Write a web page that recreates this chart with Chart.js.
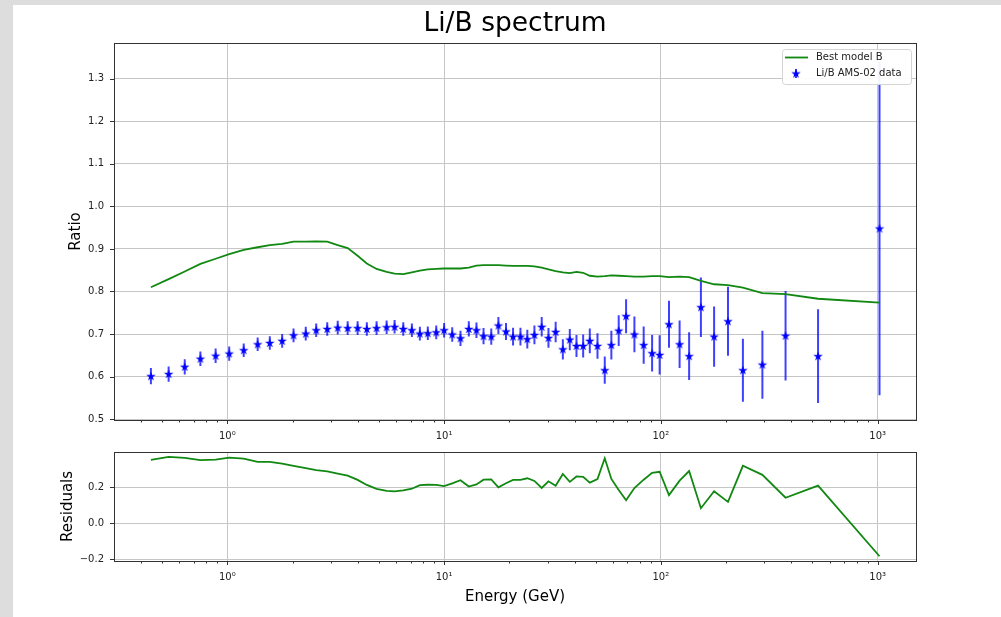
<!DOCTYPE html>
<html>
<head>
<meta charset="utf-8">
<title>Li/B spectrum</title>
<script src="https://cdn.jsdelivr.net/npm/chart.js@4.4.1/dist/chart.umd.min.js"></script>
<style>
  html, body { margin: 0; padding: 0; }
  body { width: 1001px; height: 617px; background: #dddddd; position: relative; overflow: hidden; }
  #fig { position: absolute; left: 13px; top: 5px; width: 988px; height: 612px; background: #ffffff; }
  #spectrum { position: absolute; left: 0; top: 0; }
  #resid { position: absolute; left: 0; top: 440px; }
</style>
</head>
<body>
<div id="fig">
  <canvas id="spectrum" width="988" height="440"></canvas>
  <canvas id="resid" width="988" height="172"></canvas>
</div>
<script>
// energies (GeV) of the AMS-02 bins
const energy = [
  0.444, 0.536, 0.636, 0.751, 0.883, 1.02, 1.19, 1.38, 1.57, 1.79,
  2.02, 2.30, 2.57, 2.89, 3.23, 3.59, 3.99, 4.40, 4.88, 5.43,
  5.91, 6.48, 7.10, 7.73, 8.41, 9.20, 10.0, 10.9, 11.9, 13.0,
  14.1, 15.2, 16.5, 17.8, 19.3, 20.8, 22.5, 24.2, 26.1, 28.2,
  30.3, 32.7, 35.3, 38.0, 40.8, 43.8, 47.0, 51.0, 55.1, 59.1,
  63.9, 69.1, 75.5, 83.3, 91.1, 98.7, 109, 122, 135, 153,
  176, 204, 239, 294, 376, 531, 1020
];
// measured Li/B ratio
const liBRatio = [
  0.601, 0.606, 0.623, 0.642, 0.649, 0.654, 0.662, 0.676, 0.679, 0.684,
  0.697, 0.701, 0.709, 0.712, 0.715, 0.714, 0.714, 0.712, 0.714, 0.716,
  0.717, 0.712, 0.709, 0.701, 0.702, 0.704, 0.709, 0.699, 0.690, 0.712,
  0.709, 0.695, 0.694, 0.720, 0.706, 0.694, 0.694, 0.688, 0.698, 0.717,
  0.691, 0.705, 0.664, 0.687, 0.672, 0.672, 0.684, 0.672, 0.615, 0.674,
  0.708, 0.742, 0.699, 0.674, 0.655, 0.651, 0.723, 0.676, 0.648, 0.763,
  0.694, 0.730, 0.615, 0.628, 0.696, 0.648, 0.948
];
// symmetric errors on the ratio
const liBError = [
  0.019, 0.018, 0.018, 0.017, 0.017, 0.017, 0.016, 0.016, 0.016, 0.016,
  0.016, 0.016, 0.016, 0.016, 0.016, 0.016, 0.016, 0.016, 0.016, 0.016,
  0.016, 0.016, 0.016, 0.016, 0.016, 0.016, 0.017, 0.017, 0.018, 0.018,
  0.018, 0.019, 0.019, 0.020, 0.020, 0.021, 0.021, 0.022, 0.022, 0.023,
  0.023, 0.024, 0.024, 0.025, 0.026, 0.027, 0.029, 0.030, 0.032, 0.034,
  0.036, 0.040, 0.042, 0.044, 0.043, 0.046, 0.055, 0.056, 0.056, 0.070,
  0.071, 0.081, 0.074, 0.080, 0.105, 0.110, 0.392
];
// best model B evaluated at the same energies
const modelRatio = [
  0.810, 0.829, 0.847, 0.865, 0.877, 0.888, 0.898, 0.904, 0.909, 0.912,
  0.917, 0.917, 0.918, 0.917, 0.909, 0.902, 0.884, 0.866, 0.853, 0.846,
  0.842, 0.841, 0.845, 0.849, 0.852, 0.853, 0.854, 0.854, 0.854, 0.856,
  0.861, 0.862, 0.862, 0.862, 0.861, 0.860, 0.860, 0.860, 0.859, 0.856,
  0.852, 0.848, 0.845, 0.843, 0.846, 0.844, 0.837, 0.835, 0.836, 0.838,
  0.837, 0.836, 0.835, 0.835, 0.836, 0.836, 0.834, 0.835, 0.834, 0.825,
  0.817, 0.815, 0.809, 0.796, 0.794, 0.783, 0.774
];
// relative residuals of the model
const residuals = [
  0.351, 0.367, 0.362, 0.349, 0.352, 0.363, 0.358, 0.340, 0.340, 0.330,
  0.318, 0.305, 0.294, 0.287, 0.275, 0.263, 0.240, 0.212, 0.190, 0.179,
  0.176, 0.182, 0.191, 0.211, 0.213, 0.212, 0.206, 0.221, 0.238, 0.203,
  0.215, 0.241, 0.243, 0.199, 0.221, 0.240, 0.240, 0.249, 0.234, 0.195,
  0.232, 0.208, 0.273, 0.229, 0.259, 0.257, 0.225, 0.244, 0.360, 0.245,
  0.184, 0.127, 0.195, 0.241, 0.279, 0.285, 0.156, 0.236, 0.289, 0.083,
  0.177, 0.118, 0.318, 0.268, 0.141, 0.208, -0.183
];

const ratioTicks = [0.5, 0.6, 0.7, 0.8, 0.9, 1.0, 1.1, 1.2, 1.3];
const ratioTickLabels = ['0.5', '0.6', '0.7', '0.8', '0.9', '1.0', '1.1', '1.2', '1.3'];
const residualTicks = [-0.2, 0.0, 0.2];
const residualTickLabels = ['\u22120.2', '0.0', '0.2'];
const decadeTicks = [1, 10, 100, 1000];
const decadeTickLabels = ['10\u2070', '10\u00b9', '10\u00b2', '10\u00b3'];

const xMin = 0.3018, xMax = 1503;
const gridColor = '#c6c6c6';
const frameColor = '#333333';
const textColor = '#222222';
const barColor = 'rgba(0,0,255,0.75)';

Chart.defaults.font.family = "'DejaVu Sans', sans-serif";
Chart.defaults.color = textColor;

// filled five-pointed star used as point marker
function starMarker(color) {
  const c = document.createElement('canvas');
  c.width = 12; c.height = 12;
  const g = c.getContext('2d');
  const R = 5, r = R * 0.382;
  g.beginPath();
  for (let i = 0; i < 10; i++) {
    const rad = i % 2 === 0 ? R : r;
    const a = -Math.PI / 2 + i * Math.PI / 5;
    const px = 6 + rad * Math.cos(a), py = 6.3 + rad * Math.sin(a);
    if (i === 0) g.moveTo(px, py); else g.lineTo(px, py);
  }
  g.closePath();
  g.fillStyle = color;
  g.fill();
  return c;
}
const star = starMarker('#0000ff');

function logTicks(min, max) {
  const out = [];
  for (let p = -1; p <= 3; p++) {
    for (let k = 1; k <= 9; k++) {
      const v = k * Math.pow(10, p);
      if (v >= min && v <= max) out.push({ value: v, major: k === 1 });
    }
  }
  return out;
}

function energyAxis(labelPad, height, title) {
  return {
    type: 'logarithmic',
    min: xMin,
    max: xMax,
    afterBuildTicks: s => { s.ticks = logTicks(xMin, xMax); },
    afterFit: s => { s.height = height; },
    ticks: {
      autoSkip: false,
      maxRotation: 0,
      padding: labelPad,
      font: { size: 10 },
      callback: v => {
        const i = decadeTicks.indexOf(v);
        return i >= 0 ? decadeTickLabels[i] : '';
      }
    },
    grid: {
      drawTicks: false,
      lineWidth: 1,
      color: c => (c.tick && c.tick.major ? gridColor : 'rgba(0,0,0,0)')
    },
    border: { display: false },
    title: title
  };
}

function valueAxis(min, max, ticks, labels, title, titlePad) {
  return {
    type: 'linear',
    min: min,
    max: max,
    afterBuildTicks: s => { s.ticks = ticks.map(v => ({ value: v })); },
    afterFit: s => {
      s.width = 101;
      s.paddingTop = 0;
      s.paddingBottom = 0;
    },
    ticks: {
      padding: 10,
      font: { size: 10 },
      callback: (v, i) => labels[i]
    },
    grid: { drawTicks: false, lineWidth: 1, color: gridColor },
    border: { display: false },
    title: {
      display: true,
      text: title,
      color: '#000',
      font: { size: 15 },
      padding: { top: titlePad, bottom: 0 }
    }
  };
}

// outward tick marks and the closed axes frame
const frame = {
  id: 'frame',
  afterDraw(chart) {
    const { ctx, chartArea: a, scales } = chart;
    ctx.save();
    ctx.strokeStyle = frameColor;
    ctx.lineWidth = 1;
    ctx.beginPath();
    scales.x.ticks.forEach(t => {
      const px = Math.round(scales.x.getPixelForValue(t.value)) + 0.5;
      if (px < a.left || px > a.right) return;
      ctx.moveTo(px, a.bottom);
      ctx.lineTo(px, a.bottom + (t.major ? 4 : 2.5));
    });
    scales.y.ticks.forEach(t => {
      const py = Math.round(scales.y.getPixelForValue(t.value)) + 0.5;
      ctx.moveTo(a.left - 4, py);
      ctx.lineTo(a.left, py);
    });
    ctx.stroke();
    ctx.strokeRect(Math.round(a.left) + 0.5, Math.round(a.top) + 0.5,
                   Math.round(a.right - a.left), Math.round(a.bottom - a.top));
    ctx.restore();
  }
};

// vertical error bars under the data markers
const errorBars = {
  id: 'errorBars',
  beforeDatasetsDraw(chart) {
    const { ctx, chartArea: a, scales } = chart;
    ctx.save();
    ctx.beginPath();
    ctx.rect(a.left, a.top, a.right - a.left, a.bottom - a.top);
    ctx.clip();
    chart.data.datasets.forEach(ds => {
      if (!ds.errors) return;
      ctx.strokeStyle = barColor;
      ctx.lineWidth = 2;
      ctx.beginPath();
      ds.data.forEach((p, i) => {
        const px = scales.x.getPixelForValue(p.x);
        ctx.moveTo(px, scales.y.getPixelForValue(p.y + ds.errors[i]));
        ctx.lineTo(px, scales.y.getPixelForValue(p.y - ds.errors[i]));
      });
      ctx.stroke();
    });
    ctx.restore();
  }
};

// legend box in the upper right corner of the axes
const legendBox = {
  id: 'legendBox',
  afterDraw(chart) {
    const { ctx, chartArea: a } = chart;
    const w = 129, h = 35;
    const x0 = Math.round(a.right) - 5 - w, y0 = Math.round(a.top) + 6;
    const dsLine = chart.data.datasets[0], dsData = chart.data.datasets[1];
    ctx.save();
    ctx.beginPath();
    if (ctx.roundRect) ctx.roundRect(x0 + 0.5, y0 + 0.5, w, h, 3);
    else ctx.rect(x0 + 0.5, y0 + 0.5, w, h);
    ctx.fillStyle = 'rgba(255,255,255,0.93)';
    ctx.fill();
    ctx.strokeStyle = '#d4d4d4';
    ctx.lineWidth = 1;
    ctx.stroke();

    ctx.strokeStyle = dsLine.borderColor;
    ctx.lineWidth = dsLine.borderWidth;
    ctx.beginPath();
    ctx.moveTo(x0 + 3, y0 + 8.5);
    ctx.lineTo(x0 + 26, y0 + 8.5);
    ctx.stroke();

    ctx.strokeStyle = barColor;
    ctx.lineWidth = 2;
    ctx.beginPath();
    ctx.moveTo(x0 + 14, y0 + 20);
    ctx.lineTo(x0 + 14, y0 + 29);
    ctx.stroke();
    ctx.drawImage(star, x0 + 14 - star.width / 2, y0 + 24.5 - star.height / 2);

    ctx.fillStyle = textColor;
    ctx.font = "10px 'DejaVu Sans', sans-serif";
    ctx.textBaseline = 'middle';
    ctx.textAlign = 'left';
    ctx.fillText(dsLine.label, x0 + 34, y0 + 8.5);
    ctx.fillText(dsData.label, x0 + 34, y0 + 24.5);
    ctx.restore();
  }
};

const modelPoints = energy.map((e, i) => ({ x: e, y: modelRatio[i] }));
const dataPoints = energy.map((e, i) => ({ x: e, y: liBRatio[i] }));
const residualPoints = energy.map((e, i) => ({ x: e, y: residuals[i] }));

new Chart(document.getElementById('spectrum'), {
  type: 'scatter',
  data: {
    datasets: [
      {
        label: 'Best model B',
        data: modelPoints,
        showLine: true,
        borderColor: '#118811',
        borderWidth: 1.8,
        pointRadius: 0,
        order: 1
      },
      {
        label: 'Li/B AMS-02 data',
        data: dataPoints,
        errors: liBError,
        showLine: false,
        pointStyle: star,
        pointRadius: 5,
        order: 0
      }
    ]
  },
  options: {
    responsive: false,
    animation: false,
    devicePixelRatio: 1,
    events: [],
    layout: { padding: { left: 0, right: 85, top: 0, bottom: 0 } },
    plugins: {
      legend: { display: false },
      tooltip: { enabled: false },
      title: {
        display: true,
        fullSize: false,
        text: 'Li/B spectrum',
        color: '#000',
        font: { size: 26.5, weight: 'normal' },
        padding: { top: 3.5, bottom: 2.7 }
      }
    },
    scales: {
      x: energyAxis(10, 25, { display: false }),
      y: valueAxis(0.498, 1.384, ratioTicks, ratioTickLabels, 'Ratio', 54)
    }
  },
  plugins: [errorBars, frame, legendBox]
});

new Chart(document.getElementById('resid'), {
  type: 'scatter',
  data: {
    datasets: [
      {
        label: 'Residuals',
        data: residualPoints,
        showLine: true,
        borderColor: '#118811',
        borderWidth: 1.8,
        pointRadius: 0
      }
    ]
  },
  options: {
    responsive: false,
    animation: false,
    devicePixelRatio: 1,
    events: [],
    layout: { padding: { left: 0, right: 85, top: 7, bottom: 0 } },
    plugins: {
      legend: { display: false },
      tooltip: { enabled: false }
    },
    scales: {
      x: energyAxis(10, 56, {
        display: true,
        text: 'Energy (GeV)',
        color: '#000',
        font: { size: 15 },
        padding: { top: 0, bottom: 11 }
      }),
      y: valueAxis(-0.2095, 0.3945, residualTicks, residualTickLabels, 'Residuals', 46)
    }
  },
  plugins: [frame]
});
</script>
</body>
</html>
